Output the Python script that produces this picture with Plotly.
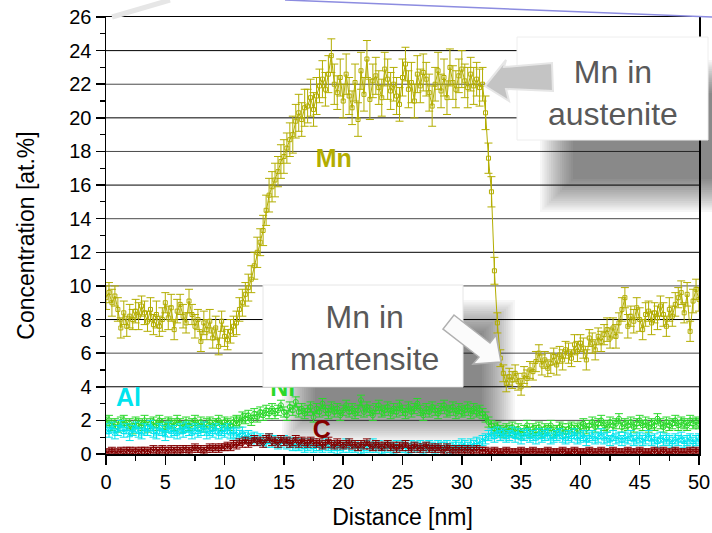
import plotly.graph_objects as go

# ---------------- data ----------------
step = 0.25
distance = [round(i * step, 2) for i in range(201)]  # 0 .. 50 nm sample positions

mn = [
    9.3, 9.6, 9.0, 9.4, 8.6, 7.5, 8.4, 7.6, 8.2, 8.0,
    8.5, 8.2, 8.8, 8.4, 7.9, 8.6, 7.7, 8.3, 7.6, 8.0,
    9.0, 8.1, 8.7, 7.4, 8.5, 8.9, 8.2, 7.8, 9.1, 8.3,
    7.6, 8.0, 6.7, 7.8, 7.4, 7.9, 6.9, 7.5, 6.4, 7.9,
    7.0, 6.8, 7.3, 7.6, 7.8, 8.6, 9.0, 9.5, 9.9, 10.4,
    11.2, 12.0, 12.6, 13.3, 14.5, 15.4, 15.9, 16.3, 16.8, 17.4,
    17.7, 18.2, 18.7, 19.0, 19.8, 20.3, 19.9, 20.6, 20.7, 21.2,
    20.5, 21.3, 21.9, 22.3, 21.7, 22.6, 23.7, 22.0,
    21.5, 22.4, 21.0, 22.6, 21.3, 20.6, 22.1, 19.9, 22.8, 21.4,
    23.5, 21.1, 22.2, 22.5, 21.8, 21.2, 22.9, 22.3, 21.6, 22.0,
    21.3, 20.8, 22.4, 23.2, 21.7, 22.1, 21.0, 22.6, 21.9, 22.7,
    22.3, 21.5, 20.7, 22.0, 22.8, 21.6, 22.4, 21.2, 23.0, 22.1,
    21.7, 22.5, 22.9, 22.2, 21.8, 22.6, 21.9, 22.3, 21.8, 22.0,
    20.3, 17.6, 15.6, 10.9, 7.8, 5.7, 4.8, 4.2, 4.6, 4.4,
    4.8, 4.3, 4.0, 4.7, 4.5, 5.0, 4.9, 5.5, 6.0, 5.3,
    5.6, 5.1, 5.4, 5.8, 5.3, 5.9, 5.6, 6.2, 6.0, 5.7,
    6.5, 6.1, 6.6, 6.3, 5.6, 6.9, 6.6, 6.2, 7.0, 6.7,
    7.1, 7.4, 6.9, 7.5, 7.0, 7.8, 8.6, 9.3, 7.6, 8.2,
    7.9, 8.7, 8.0, 7.4, 8.3, 8.5, 7.8, 8.4, 8.1, 8.8,
    8.3, 7.6, 8.6, 8.2, 8.9, 9.3, 9.6, 8.4, 9.5, 7.3,
    9.1, 9.8, 9.2,
]
mn_err = [
    0.7, 0.6, 0.8, 0.6, 0.7, 0.6, 0.7, 0.6, 0.7, 0.6,
    0.7, 0.8, 0.6, 0.7, 0.6, 0.7, 0.6, 0.8, 0.6, 0.7,
    0.6, 0.7, 0.8, 0.6, 0.7, 0.6, 0.7, 0.6, 0.7, 0.6,
    0.7, 0.6, 0.6, 0.7, 0.6, 0.7, 0.6, 0.7, 0.5, 0.6,
    0.6, 0.6, 0.7, 0.6, 0.7, 0.7, 0.8, 0.7, 0.8, 0.8,
    0.8, 0.9, 0.8, 0.9, 0.9, 1.0, 0.9, 1.0, 0.9, 1.0,
    1.0, 0.9, 1.0, 1.1, 1.0, 1.1, 1.0, 1.1, 1.0, 1.1,
    1.0, 1.1, 1.0, 1.1, 1.0, 1.1, 1.0, 1.2,
    1.0, 1.1, 1.0, 1.2, 1.1, 1.0, 1.1, 1.0, 1.1, 1.0,
    1.1, 1.2, 1.0, 1.1, 1.0, 1.1, 1.0, 1.2, 1.1, 1.0,
    1.1, 1.0, 1.1, 1.0, 1.1, 1.2, 1.0, 1.1, 1.0, 1.1,
    1.0, 1.1, 1.2, 1.0, 1.1, 1.0, 1.1, 1.0, 1.1, 1.0,
    1.1, 1.0, 1.1, 1.0, 1.2, 1.0, 1.1, 1.0, 1.1, 1.0,
    1.0, 0.9, 0.9, 0.8, 0.6, 0.5, 0.5, 0.5, 0.5, 0.5,
    0.5, 0.5, 0.5, 0.5, 0.5, 0.5, 0.5, 0.6, 0.5, 0.6,
    0.5, 0.5, 0.6, 0.5, 0.6, 0.5, 0.6, 0.5, 0.6, 0.5,
    0.6, 0.6, 0.5, 0.6, 0.6, 0.5, 0.6, 0.6, 0.5, 0.6,
    0.6, 0.7, 0.6, 0.6, 0.7, 0.6, 0.7, 0.6, 0.7, 0.6,
    0.7, 0.6, 0.7, 0.6, 0.7, 0.6, 0.7, 0.6, 0.7, 0.6,
    0.7, 0.6, 0.7, 0.6, 0.7, 0.6, 0.7, 0.6, 0.7, 0.6,
    0.7, 0.6, 0.7,
]

ni = [
    1.9, 2.0, 1.7, 1.8, 1.6, 1.9, 2.0, 1.7, 1.8, 1.5,
    1.9, 1.8, 1.7, 2.0, 1.6, 1.8, 1.9, 1.7, 2.0, 1.8,
    1.6, 1.9, 1.8, 1.7, 2.0, 1.8, 1.6, 1.9, 1.7, 1.8,
    2.0, 1.7, 1.9, 1.6, 1.8, 1.9, 1.7, 1.8, 2.0, 1.7,
    1.9, 1.8, 1.7, 1.9,
    2.0, 1.9, 2.2, 2.1, 2.3, 2.0, 2.4, 2.2, 2.5, 2.3, 2.6, 2.4,
    2.7, 2.4, 2.6, 2.9, 2.5, 2.3, 2.8, 2.6, 3.1, 2.5,
    2.7, 2.4, 2.6, 2.8, 2.2, 2.7, 2.5, 3.0, 2.6, 2.4,
    2.8, 2.5, 2.7, 2.3, 2.6, 2.9, 2.5, 2.7, 2.4, 2.6,
    3.2, 2.5, 2.8, 2.6, 2.3, 2.7, 2.9, 2.5, 2.6, 2.8,
    2.4, 2.7, 2.5, 2.9, 2.6, 2.4, 2.8, 2.5, 2.7, 3.0,
    2.6, 2.3, 2.7, 2.5, 2.8, 2.6, 2.4, 2.7, 2.9, 2.5,
    2.6, 2.8, 2.4, 2.7, 2.5, 2.6, 2.8, 2.4, 2.7, 2.5,
    2.6, 2.4,
    2.2, 1.9, 1.7, 1.5, 1.6, 1.4, 1.3, 1.5,
    1.4, 1.6, 1.3, 1.5, 1.2, 1.4, 1.7, 1.3, 1.5, 1.4,
    1.6, 1.3, 1.5, 1.4, 1.7, 1.3, 1.4, 1.6, 1.5, 1.3,
    1.5, 1.6, 1.4, 1.5,
    1.6, 1.8, 1.5, 1.7, 1.9, 1.6, 1.8, 2.0, 1.7, 1.6,
    1.9, 1.7, 1.8, 2.1, 1.6, 1.8, 1.7, 1.9, 1.6, 1.8,
    2.0, 1.7, 1.9, 1.6, 1.8, 1.7, 2.1, 1.8, 1.6, 1.9,
    1.7, 1.8, 2.0, 1.7, 1.9, 1.8, 1.7, 2.0, 1.8, 1.9,
    1.8,
]
ni_err = 0.3

al = [
    1.5, 1.3, 1.6, 1.2, 1.4, 1.7, 1.3, 1.5, 1.1, 1.4,
    1.6, 1.3, 1.2, 1.5, 1.4, 1.7, 1.3, 1.2, 1.5, 1.4,
    1.1, 1.6, 1.3, 1.4, 1.2, 1.5, 1.3, 1.6, 1.4, 1.2,
    1.5, 1.3, 1.4, 1.6, 1.2, 1.4, 1.3, 1.5, 1.2, 1.4,
    1.3, 1.5, 1.2, 1.3,
    1.2, 1.1, 1.3, 1.0, 1.1, 0.9, 1.0, 0.8, 0.9, 0.8,
    0.7, 0.9, 0.7, 0.8, 0.6, 0.7, 0.8, 0.6, 0.7, 0.5,
    0.6, 0.5, 0.6, 0.4, 0.5, 0.6, 0.4, 0.5, 0.5, 0.4,
    0.6, 0.5, 0.4, 0.5, 0.3, 0.5, 0.4, 0.6, 0.4, 0.5,
    0.4, 0.5, 0.3, 0.4, 0.5, 0.4, 0.6, 0.4, 0.5, 0.3,
    0.4, 0.5, 0.4, 0.3, 0.5, 0.4, 0.5, 0.4, 0.3, 0.5,
    0.4, 0.4, 0.5, 0.3, 0.4, 0.5, 0.4, 0.3, 0.5, 0.4,
    0.4, 0.5, 0.3, 0.4, 0.5, 0.4, 0.6, 0.5, 0.4, 0.6,
    0.5, 0.7, 0.6, 0.8,
    0.9, 1.1, 1.2, 1.0, 1.3, 1.1, 1.2, 1.0, 1.1, 1.3,
    1.0, 1.2, 0.9, 1.1, 1.2, 1.0, 1.1, 0.9, 1.2, 1.0,
    1.1, 1.2, 0.9, 1.0, 1.1, 1.2, 1.0, 0.9, 1.1, 1.0,
    1.2, 0.9, 1.0, 1.1, 0.8, 1.0, 1.1, 0.9, 1.0, 1.2,
    0.9, 1.0, 0.8, 1.1, 0.9, 1.0, 0.8, 1.0, 0.9, 1.1,
    0.8, 0.9, 1.0, 0.8, 0.9, 1.1, 0.8, 0.9, 0.7, 1.0,
    0.8, 0.9, 0.8, 0.7, 0.9, 0.8, 1.0, 0.7, 0.8, 0.9,
    0.7, 0.8, 0.9,
]
al_err = 0.3

c = [
    0.1, 0.1, 0.2, 0.1, 0.1, 0.2, 0.1, 0.2, 0.2, 0.1,
    0.2, 0.1, 0.2, 0.2, 0.1, 0.2, 0.3, 0.2, 0.2, 0.3,
    0.2, 0.2, 0.3, 0.2, 0.3, 0.2, 0.3, 0.3, 0.2, 0.3,
    0.4, 0.3, 0.3, 0.2, 0.3, 0.4, 0.3, 0.4, 0.3, 0.4,
    0.4, 0.5, 0.4, 0.6, 0.5, 0.7, 0.6, 0.8, 0.6, 0.7,
    0.9, 0.7, 0.8, 0.6, 0.9, 1.0, 0.7, 0.8, 0.6, 0.9,
    0.7, 0.8, 0.6, 0.7, 0.9, 0.6, 0.8, 0.7, 0.6, 0.8,
    0.7, 0.6,
    0.7, 0.5, 0.6, 0.8, 0.6, 0.5, 0.7, 0.6, 0.5, 0.6,
    0.7, 0.5, 0.6, 0.4, 0.6, 0.5, 0.7, 0.5, 0.4, 0.6,
    0.5, 0.4, 0.5, 0.6, 0.4, 0.5, 0.3, 0.5, 0.4, 0.6,
    0.4, 0.3, 0.5, 0.4, 0.3, 0.4, 0.5, 0.3, 0.4, 0.3,
    0.4, 0.3, 0.2, 0.4, 0.3, 0.2, 0.3, 0.2, 0.3, 0.2,
    0.3, 0.2, 0.2, 0.3, 0.2, 0.2,
    0.2, 0.1, 0.1, 0.2, 0.1, 0.1, 0.1, 0.2, 0.1, 0.1,
    0.1, 0.1, 0.2, 0.1, 0.1, 0.1, 0.2, 0.1, 0.1, 0.1,
    0.1, 0.2, 0.1, 0.1, 0.1, 0.1, 0.2, 0.1, 0.1, 0.1,
    0.2, 0.1, 0.1, 0.1, 0.1, 0.2, 0.1, 0.1, 0.1, 0.2,
    0.1, 0.1, 0.1, 0.2, 0.1, 0.1, 0.1, 0.1, 0.2, 0.1,
    0.1, 0.1, 0.2, 0.1, 0.1, 0.1, 0.1, 0.2, 0.1, 0.1,
    0.2, 0.1, 0.1, 0.1, 0.2, 0.1, 0.1, 0.1, 0.1, 0.2,
    0.1, 0.2, 0.1,
]
c_err = 0.2

x_ticks = [0, 5, 10, 15, 20, 25, 30, 35, 40, 45, 50]
y_ticks = [0, 2, 4, 6, 8, 10, 12, 14, 16, 18, 20, 22, 24, 26]
grid_values = [2, 4, 6, 8, 10, 12, 14, 16, 18, 20, 22, 24]

# ---------------- styling ----------------
MN_C = "#b3ad00"
NI_C = "#2ad82a"
AL_C = "#00e4ee"
C_C = "#840000"
FONT = "Liberation Sans, Arial, sans-serif"

FIG_W, FIG_H = 712, 533
# plot area in pixels (for decoration placement)
L, R, T, B = 106, 699, 17, 454
W, H = R - L, B - T


def px(x):
    return (x - L) / W


def py(y):
    return (B - y) / H


fig = go.Figure()


def add_series(y, err, color, symbol, size, name):
    ed = dict(type="constant", value=err) if not isinstance(err, list) else dict(type="data", array=err)
    ed.update(color=color, thickness=1, width=4, visible=True)
    fig.add_trace(go.Scatter(
        x=distance, y=y, mode="lines+markers", name=name,
        line=dict(color=color, width=1),
        marker=dict(symbol=symbol, size=size, color=color, line=dict(color=color, width=1)),
        error_y=ed, showlegend=False, hoverinfo="skip",
    ))


add_series(ni, ni_err, NI_C, "circle-open", 5, "Ni")
add_series(al, al_err, AL_C, "triangle-up-open", 5, "Al")
add_series(c, c_err, C_C, "triangle-down-open", 5, "C")
add_series(mn, mn_err, MN_C, "square-open", 4, "Mn")

# element labels (as text traces so the callout boxes can sit on top)
labels = [("Mn", 19.2, 17.45, MN_C), ("Al", 1.9, 3.2, AL_C), ("Ni", 14.9, 3.82, NI_C), ("C", 18.2, 1.3, C_C)]
for txt, lx, ly, col in labels:
    fig.add_trace(go.Scatter(
        x=[lx], y=[ly], mode="text", text=[f"<b>{txt}</b>"],
        textfont=dict(size=25, color=col, family=FONT),
        showlegend=False, hoverinfo="skip", cliponaxis=False,
    ))

shapes = []
# horizontal grid lines
for v in grid_values:
    shapes.append(dict(type="line", xref="paper", yref="y", x0=0, x1=1, y0=v, y1=v,
                       line=dict(color="#000000" if v % 4 == 0 else "#4a4a4a", width=1),
                       layer="below"))


def soft_shadow(x0, y0, x1, y1, n=16, step_px=2.2, op=0.035):
    out = []
    for i in range(n):
        d = i * step_px
        out.append(dict(type="rect", xref="paper", yref="paper",
                        x0=px(x0 + d), x1=px(x1 - d), y0=py(y1 - d), y1=py(y0 + d),
                        fillcolor=f"rgba(0,0,0,{op})", line=dict(width=0), layer="below"))
    return out


shapes += soft_shadow(282, 300, 515, 442)
shapes += soft_shadow(540, 60, 745, 212)

# callout boxes
shapes.append(dict(type="rect", xref="paper", yref="paper", x0=px(263), x1=px(463), y0=py(387), y1=py(285),
                   fillcolor="white", line=dict(color="#e6e6e6", width=1), layer="above"))
shapes.append(dict(type="rect", xref="paper", yref="paper", x0=px(517), x1=px(708), y0=py(140), y1=py(37),
                   fillcolor="white", line=dict(color="#eeeeee", width=1), layer="above"))


def path(points):
    return "M " + " L ".join(f"{px(a):.5f},{py(b):.5f}" for a, b in points) + " Z"


# arrow pointing to Mn in austenite (grey, pointing left)
shapes.append(dict(type="path", xref="paper", yref="paper",
                   path=path([(485, 86), (506, 60), (504, 67), (552, 63), (553, 91), (506, 89), (509, 101)]),
                   fillcolor="#c4c4c4", line=dict(color="#e6e6e6", width=2), layer="above"))
# arrow pointing to Mn in martensite (white, pointing down-right)
shapes.append(dict(type="path", xref="paper", yref="paper",
                   path=path([(454, 315), (490, 343), (496, 335), (501, 362), (473, 364), (479, 357), (443, 329)]),
                   fillcolor="#fbfbfb", line=dict(color="#b0b0b0", width=1.5), layer="above"))

# slide decorations at the top
shapes.append(dict(type="line", xref="paper", yref="paper", x0=px(112), y0=py(17), x1=px(170), y1=py(0),
                   line=dict(color="#e6e6e6", width=5), layer="above"))
shapes.append(dict(type="line", xref="paper", yref="paper", x0=px(285), y0=py(0), x1=px(712), y1=py(17),
                   line=dict(color="#8c8ce0", width=1.5), layer="above"))

annotations = [
    dict(text="Mn in<br>austenite", xref="paper", yref="paper", x=px(613), y=py(93),
         xanchor="center", yanchor="middle", showarrow=False,
         font=dict(size=32, color="#595959", family=FONT)),
    dict(text="Mn in<br>martensite", xref="paper", yref="paper", x=px(364), y=py(338),
         xanchor="center", yanchor="middle", showarrow=False,
         font=dict(size=32, color="#595959", family=FONT)),
]

fig.update_layout(
    width=FIG_W, height=FIG_H,
    margin=dict(l=L, r=FIG_W - R, t=T, b=FIG_H - B),
    paper_bgcolor="white", plot_bgcolor="white",
    font=dict(family=FONT, size=20, color="black"),
    hovermode=False,
    shapes=shapes, annotations=annotations,
    xaxis=dict(range=[0, 50], tickvals=x_ticks, ticks="outside", ticklen=9, tickwidth=1.5,
               tickcolor="black", showgrid=False, zeroline=False, showline=True, linecolor="black",
               linewidth=1.5, mirror=True, tickfont=dict(size=20), automargin=False,
               ticklabeloverflow="allow",
               minor=dict(dtick=2.5, ticks="outside", ticklen=5, tickwidth=1.2, tickcolor="black"),
               title=dict(text="Distance [nm]", font=dict(size=23), standoff=17)),
    yaxis=dict(range=[0, 26], tickvals=y_ticks, ticks="outside", ticklen=9, tickwidth=1.5,
               tickcolor="black", showgrid=False, zeroline=False, showline=True, linecolor="black",
               linewidth=1.5, mirror=True, tickfont=dict(size=20), automargin=False,
               ticklabeloverflow="allow",
               minor=dict(dtick=1, ticks="outside", ticklen=5, tickwidth=1.2, tickcolor="black"),
               title=dict(text="Concentration [at.%]", font=dict(size=23), standoff=28)),
)

# remove the browser's default 8px page margin so the figure fills the window exactly
fig.write_html(
    "out.html",
    config={"displayModeBar": False, "staticPlot": True},
    post_script="document.body.style.margin='0';document.body.style.overflow='hidden';",
)
